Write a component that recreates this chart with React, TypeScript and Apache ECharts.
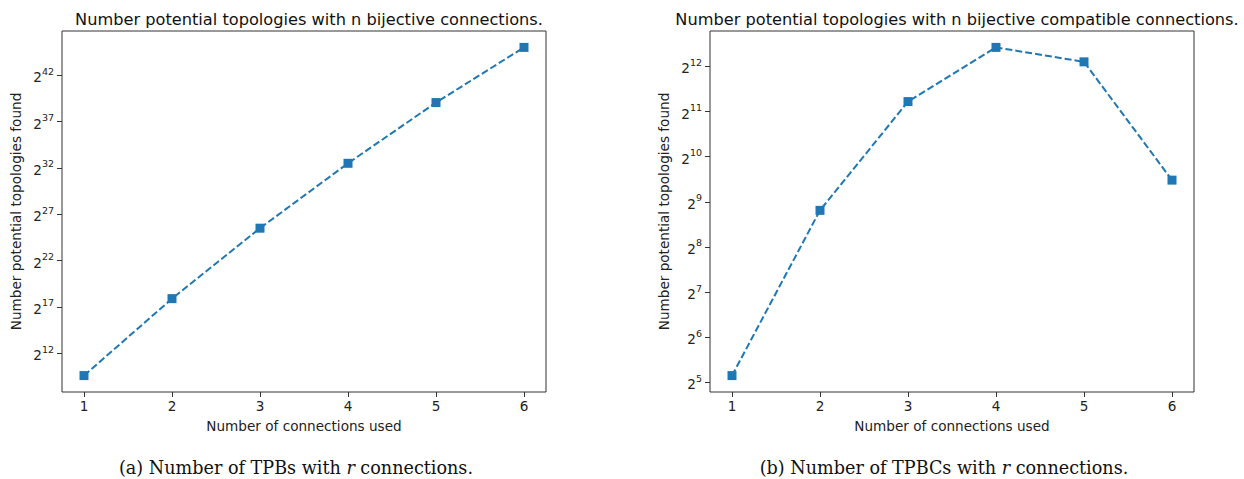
import React, { useEffect, useRef } from "react";
import * as echarts from "echarts";

const connections = [1, 2, 3, 4, 5, 6];
// log2 of the number of potential topologies found
const tpbLog2Counts = [9.6, 17.9, 25.5, 32.5, 39.05, 45.0];
const tpbcLog2Counts = [5.15, 8.81, 11.22, 12.42, 12.1, 9.48];
const tpbTicks = [12, 17, 22, 27, 32, 37, 42];
const tpbcTicks = [5, 6, 7, 8, 9, 10, 11, 12];
const xTicks = [1, 2, 3, 4, 5, 6];

const titleA = "Number potential topologies with n bijective connections.";
const titleB = "Number potential topologies with n bijective compatible connections.";
const yName = "Number potential topologies found";
const xName = "Number of connections used";

const BLUE = "#1f77b4";
const FONT = "DejaVu Sans";

function pad(vals: number[]) {
  const lo = Math.min(...vals);
  const hi = Math.max(...vals);
  const m = (hi - lo) * 0.05;
  return [lo - m, hi + m];
}

export default function App() {
  const ref = useRef<HTMLDivElement>(null);
  useEffect(() => {
    if (!ref.current) return;
    const chart = echarts.init(ref.current, null, { renderer: "svg" });
    const grids = [
      { left: 62, top: 31, width: 484, height: 361 },
      { left: 710, top: 31, width: 484, height: 361 },
    ];
    const yExt = [pad(tpbLog2Counts), pad(tpbcLog2Counts)];
    const xExt = pad(connections);
    const yTicks = [tpbTicks, tpbcTicks];
    const titles = [titleA, titleB];
    const datas = [tpbLog2Counts, tpbcLog2Counts];

    const option: any = {
      animation: false,
      backgroundColor: "#fff",
      textStyle: { fontFamily: FONT },
      title: titles.map((t, i) => ({
        text: t,
        left: grids[i].left + grids[i].width / 2,
        top: 6,
        textAlign: "center",
        textStyle: { fontFamily: FONT, fontSize: 16.2, fontWeight: "normal", color: "#111" },
      })),
      grid: grids.map((g) => ({
        ...g,
        show: true,
        borderColor: "#333",
        borderWidth: 1,
        backgroundColor: "transparent",
      })),
      xAxis: [0, 1].map((i) => ({
        type: "value",
        gridIndex: i,
        min: xExt[0],
        max: xExt[1],
        name: xName,
        nameLocation: "middle",
        nameGap: 27,
        nameTextStyle: { fontFamily: FONT, fontSize: 13.6, color: "#222" },
        splitLine: { show: false },
        axisLine: { show: false },
        axisTick: { show: true, inside: false, length: 5, customValues: xTicks, lineStyle: { color: "#333" } },
        axisLabel: { customValues: xTicks, fontFamily: FONT, fontSize: 13.6, color: "#222", margin: 7 },
      })),
      yAxis: [0, 1].map((i) => ({
        type: "value",
        gridIndex: i,
        min: yExt[i][0],
        max: yExt[i][1],
        name: yName,
        nameLocation: "middle",
        nameGap: 39,
        nameTextStyle: { fontFamily: FONT, fontSize: 13.6, color: "#222" },
        splitLine: { show: false },
        axisLine: { show: false },
        axisTick: { show: true, inside: false, length: 5, customValues: yTicks[i], lineStyle: { color: "#333" } },
        axisLabel: {
          customValues: yTicks[i],
          margin: 8,
          formatter: (v: number) => `{b|2}{s|${Math.round(v)}}`,
          rich: {
            b: { fontFamily: FONT, fontSize: 13.6, color: "#222", lineHeight: 18, verticalAlign: "bottom" },
            s: { fontFamily: FONT, fontSize: 9.5, color: "#222", lineHeight: 18, verticalAlign: "top" },
          },
        },
      })),
      series: [0, 1].map((i) => ({
        type: "line",
        xAxisIndex: i,
        yAxisIndex: i,
        data: connections.map((c, k) => [c, datas[i][k]]),
        symbol: "rect",
        symbolSize: 9,
        itemStyle: { color: BLUE },
        lineStyle: { color: BLUE, width: 2, type: [7, 3] },
      })),
      graphic: [
        {
          type: "text",
          x: 296,
          y: 468,
          style: {
            text: "(a) Number of TPBs with {i|r} connections.",
            fontFamily: "DejaVu Serif",
            fontSize: 17.6,
            fill: "#111",
            align: "center",
            verticalAlign: "middle",
            rich: { i: { fontStyle: "italic", fontFamily: "DejaVu Serif", fontSize: 17.6 } },
          },
        },
        {
          type: "text",
          x: 944,
          y: 468,
          style: {
            text: "(b) Number of TPBCs with {i|r} connections.",
            fontFamily: "DejaVu Serif",
            fontSize: 17.6,
            fill: "#111",
            align: "center",
            verticalAlign: "middle",
            rich: { i: { fontStyle: "italic", fontFamily: "DejaVu Serif", fontSize: 17.6 } },
          },
        },
      ],
    };
    chart.setOption(option);
    return () => chart.dispose();
  }, []);
  return (
    <div
      ref={ref}
      style={{ position: "fixed", left: 0, top: 0, width: 1244, height: 479, background: "#fff" }}
    />
  );
}
